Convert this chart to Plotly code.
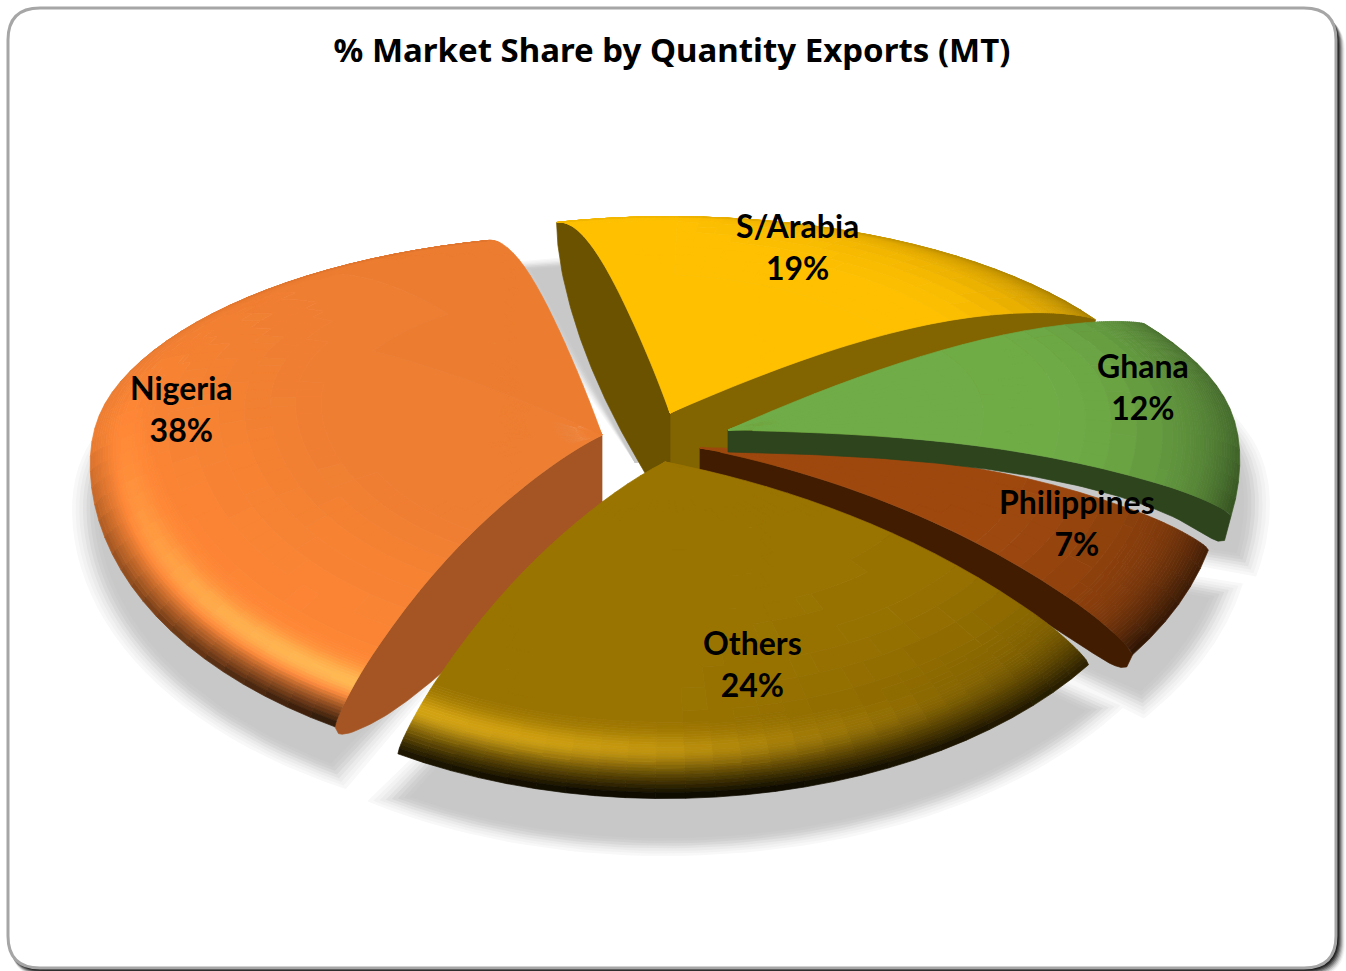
import math
import numpy as np
import plotly.graph_objects as go

# ---- data ----
categories = ["Nigeria", "S/Arabia", "Ghana", "Philippines", "Others"]
shares = [38, 19, 12, 7, 24]
title_text = "% Market Share by Quantity Exports (MT)"

# ---- style ----
base_colors = [(237,125,49), (255,192,0), (112,173,71), (158,72,14), (153,115,0)]
tip_x = [602, 670, 728, 700, 665]
tip_y = [435, 413, 430, 448, 462]
dome = [100, 95, 75, 100, 100]
scale = [1.0, 0.98, 1.0, 1.02, 1.0]
angle_tweak = [(0,0), (0,8), (4.5,8), (10.6,5.5), (5.5,0)]
shadow_dx = [0, -35, 0, 0, 0]
first_angle = 209.0
label_x = [181, 797, 1143, 1077, 752]
label_y = [408, 246, 386, 522, 663]
W, H = 1346, 971
A, K, R0, BEV = 510.0, 0.085, 0.87, 12.0
draw_order = [1, 0, 3, 2, 4]
# walls: slice -> list of (side, height, extra near rim, q, planar fraction, colour)
walls = {
    0: [(0, 80, 0, 3, 1, (165,85,35))],
    1: [(1, 80, 0, 3, 1, (130,100,0)), (0, 105, 0, 3, 1, (107,82,0))],
    2: [(1, 22, 22, 60, 0, (45,68,28))],
    3: [(1, 40, 0, 25, 0, (65,28,0))],
    4: [],
}

# slice angles come from the shares
bounds = []
cum = first_angle
for s, tw in zip(shares, angle_tweak):
    a0 = cum + tw[0]
    a1 = cum + s * 3.6 + tw[1]
    bounds.append((a0, a1))
    cum += s * 3.6


def dome_at(i, th):
    return dome[i] * (1 - 0.25 * max(0.0, math.sin(th)))


def pt(i, r, deg, bevel=True, grow=0.0):
    th = math.radians(deg)
    rr = r * (1 + grow) * scale[i]
    x, v = rr * math.sin(th), rr * math.cos(th)
    w = 1 + K * v
    B = 257 - 40 * math.tanh(4 * v)
    sx = tip_x[i] + A * x / w
    sy = tip_y[i] - B * v / w + dome_at(i, th) * (r ** 3 - r)
    if bevel:
        t = min(1.0, max(0.0, (r - R0) / (1 - R0)))
        sy += BEV * (0.5 - 0.5 * math.cos(th)) * (1 - math.sqrt(max(0, 1 - t * t)))
    return sx, sy


def shade(i, r, deg):
    th = math.radians(deg)
    c = np.array(base_colors[i], float)
    u = max(0.0, (r - 0.5) / 0.5)
    f = 1 - u ** 3 * 0.35 * max(0.0, math.sin(th))
    if i == 0:
        f *= 1 + 0.08 * u * max(0.0, math.cos(th - math.radians(230)))
    t = max(0.0, (r - R0) / (1 - R0))
    h = max(0.0, math.cos(th - math.radians(205))) ** 3
    bump = math.exp(-((t - 0.5) / 0.25) ** 2)
    f *= 1 + 0.38 * h * bump
    g = 0.06 + 0.9 * max(0.0, -math.cos(th))
    f *= 1 - t ** 3 * g
    c = c * f + 18 * h * bump
    return tuple(int(min(255, max(0, round(x / 2) * 2))) for x in c)


def rgb(c):
    return "rgb(%d,%d,%d)" % tuple(c)


fig = go.Figure()


def add_poly(xs, ys, color, lw=0.7):
    fig.add_trace(go.Scatter(x=xs, y=ys, mode="lines", fill="toself", fillcolor=color,
                             line=dict(color=color, width=lw), hoverinfo="skip", showlegend=False))


# soft shadows, outer layers first
layers = [(0.035, 248), (0.028, 242), (0.021, 235), (0.014, 226), (0.007, 216), (0.0, 208), (-0.007, 203), (-0.014, 200)]
for grow, grey in layers:
    xs, ys = [], []
    for i in range(len(shares)):
        a0, a1 = bounds[i]
        poly = [(tip_x[i] + shadow_dx[i], tip_y[i] + 50)]
        for a in np.linspace(a0 - grow * 70, a1 + grow * 70, 60):
            px, py = pt(i, 1.0, float(a), bevel=False, grow=grow)
            poly.append((px + shadow_dx[i] + 0.02 * max(0.0, px - 660), py + 50 + 0.02 * (py - 450)))
        xs += [p[0] for p in poly] + [poly[0][0], None]
        ys += [p[1] for p in poly] + [poly[0][1], None]
    add_poly(xs, ys, "rgb(%d,%d,%d)" % (grey, grey, grey), 0)

# slices
r_grid = list(np.arange(0, R0, 0.05)) + list(np.arange(R0, 1.0001, 0.005))
for i in draw_order:
    a0, a1 = bounds[i]
    for side, h, e, q, frac, col in walls[i]:
        deg = a0 if side == 0 else a1
        th = math.radians(deg)
        up, lo = [], []
        for r in np.linspace(0, 1, 80):
            r = float(r)
            x, y = pt(i, r, deg)
            up.append((x, y))
            lo.append((x, y + (h + e * r ** 10) * max(0, 1 - r ** q) ** 0.5 + frac * dome_at(i, th) * (r - r ** 3)))
        poly = up + lo[::-1]
        add_poly([p[0] for p in poly] + [poly[0][0]], [p[1] for p in poly] + [poly[0][1]], rgb(col))
    n = max(4, int((a1 - a0) / 3))
    ang = np.linspace(a0, a1, n + 1)
    groups = {}
    for j in range(len(r_grid) - 1):
        r1, r2 = float(r_grid[j]), float(r_grid[j + 1])
        for m in range(n):
            d1, d2 = float(ang[m]), float(ang[m + 1])
            col = shade(i, (r1 + r2) / 2, (d1 + d2) / 2)
            quad = [pt(i, r1, d1), pt(i, r2, d1), pt(i, r2, d2), pt(i, r1, d2), pt(i, r1, d1)]
            gx, gy = groups.setdefault(col, ([], []))
            gx += [p[0] for p in quad] + [None]
            gy += [p[1] for p in quad] + [None]
    for col, (gx, gy) in groups.items():
        add_poly(gx, gy, rgb(col))

# frame
shapes = []


def rr(x0, y0, x1, y1, rad):
    return (f"M{x0+rad},{y0} L{x1-rad},{y0} Q{x1},{y0} {x1},{y0+rad} L{x1},{y1-rad} Q{x1},{y1} {x1-rad},{y1} "
            f"L{x0+rad},{y1} Q{x0},{y1} {x0},{y1-rad} L{x0},{y0+rad} Q{x0},{y0} {x0+rad},{y0} Z")


for off, grey in [(9, 245), (8, 225), (7, 195), (6, 160), (5, 120), (4, 80), (3, 45), (2, 20)]:
    shapes.append(dict(type="path", path=rr(8 + off * 0.3, 8 + off, 1336 + off, 968 + off, 34),
                       fillcolor=f"rgb({grey},{grey},{grey})", line=dict(width=0), layer="below"))
shapes.append(dict(type="path", path=rr(8, 8, 1336, 968, 32), fillcolor="white",
                   line=dict(color="#a6a6a6", width=3), layer="below"))

annotations = [dict(x=lx, y=ly, xref="x", yref="y", text=f"{c}<br>{s}%", showarrow=False,
                    font=dict(family="Lato", size=32, color="black", weight="bold"),
                    xanchor="center", yanchor="middle", align="center")
               for c, s, lx, ly in zip(categories, shares, label_x, label_y)]

fig.update_layout(
    width=W, height=H, margin=dict(l=0, r=0, t=0, b=0),
    paper_bgcolor="white", plot_bgcolor="rgba(0,0,0,0)", showlegend=False,
    title=dict(text=f"<b>{title_text}</b>", x=672 / W, y=1 - 50 / H, xanchor="center", yanchor="middle",
               font=dict(family="Noto Sans", size=33, color="black")),
    xaxis=dict(range=[0, W], visible=False, fixedrange=True),
    yaxis=dict(range=[H, 0], visible=False, fixedrange=True),
    shapes=shapes, annotations=annotations,
)
fig.write_html("out.html", post_script="document.body.style.margin='0';", config={"displayModeBar": False})
